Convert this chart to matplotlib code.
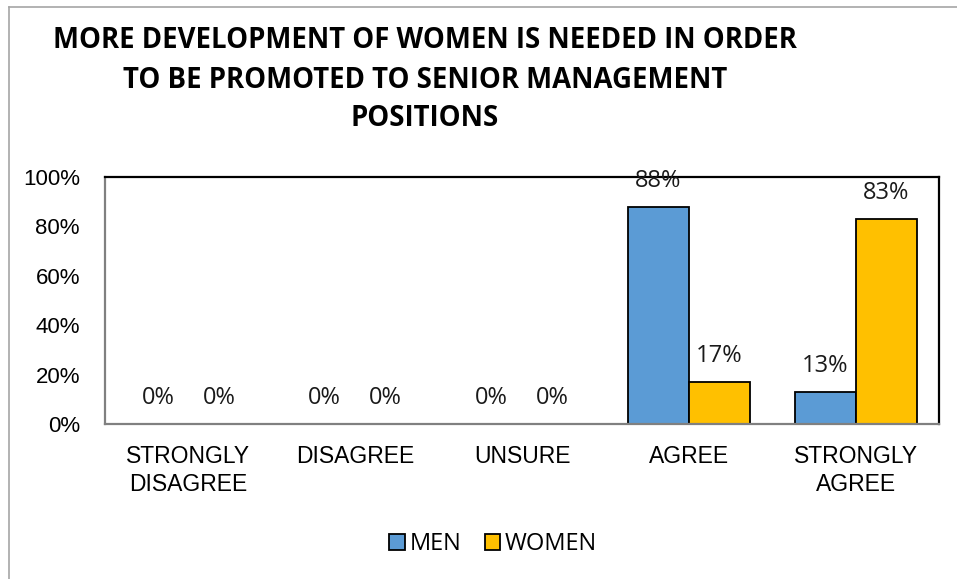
import matplotlib
matplotlib.use("Agg")
import matplotlib.pyplot as plt
from matplotlib.lines import Line2D
from matplotlib.patches import Patch
import numpy as np

categories = ["STRONGLY\nDISAGREE", "DISAGREE", "UNSURE", "AGREE", "STRONGLY\nAGREE"]
men = [0.00, 0.00, 0.00, 0.88, 0.13]
women = [0.00, 0.00, 0.00, 0.17, 0.83]
men_labels = ["0%", "0%", "0%", "88%", "13%"]
women_labels = ["0%", "0%", "0%", "17%", "83%"]
yticks = [0.0, 0.2, 0.4, 0.6, 0.8, 1.0]
ytick_labels = ["0%", "20%", "40%", "60%", "80%", "100%"]
title_lines = ["MORE DEVELOPMENT OF WOMEN IS NEEDED IN ORDER",
               "TO BE PROMOTED TO SENIOR MANAGEMENT",
               "POSITIONS"]

W, H = 957, 579
fig = plt.figure(figsize=(W / 100, H / 100), dpi=100)
fig.patch.set_facecolor("white")

narrow = ["Liberation Sans Narrow", "Liberation Sans", "DejaVu Sans"]
human = ["Open Sans", "DejaVu Sans"]

# frame of chart area (only top and left visible)
fig.add_artist(Line2D([9 / W, 1.0], [1 - 7 / H, 1 - 7 / H], color="#a6a6a6", lw=1.2, transform=fig.transFigure))
fig.add_artist(Line2D([9 / W, 9 / W], [1 - 7 / H, 0.0], color="#a6a6a6", lw=1.2, transform=fig.transFigure))

ax_l, ax_r, ax_t, ax_b = 105, 939, 177, 424
ax = fig.add_axes([ax_l / W, 1 - ax_b / H, (ax_r - ax_l) / W, (ax_b - ax_t) / H])

x = np.arange(len(categories))
bw = 0.366
b1 = ax.bar(x - bw / 2, men, bw, color="#5B9BD5", edgecolor="black", linewidth=1.3, label="MEN", zorder=2)
b2 = ax.bar(x + bw / 2, women, bw, color="#FFC000", edgecolor="black", linewidth=1.3, label="WOMEN", zorder=2)

for bars, labs in ((b1, men_labels), (b2, women_labels)):
    for rect, lab in zip(bars, labs):
        ax.annotate(lab, (rect.get_x() + rect.get_width() / 2, rect.get_height()),
                    xytext=(0, 18.5), textcoords="offset points", ha="center", va="center",
                    fontsize=17, family=human, color="#1a1a1a", zorder=3, annotation_clip=False)

ax.set_xlim(-0.5, len(categories) - 0.5)
ax.set_ylim(0, 1.0)
ax.set_yticks(yticks)
ax.set_yticklabels(ytick_labels, family=narrow, fontsize=16)
ax.set_xticks(x)
ax.set_xticklabels(categories, family=narrow, fontsize=16.5, linespacing=1.3)
ax.tick_params(axis="y", length=0, pad=18)
ax.tick_params(axis="x", length=0, pad=15)

for s in ("top", "right"):
    ax.spines[s].set_color("black")
    ax.spines[s].set_linewidth(1.6)
for s in ("left", "bottom"):
    ax.spines[s].set_color("#808080")
    ax.spines[s].set_linewidth(1.6)

# title
title_y = [41, 80, 118]
for line, yy in zip(title_lines, title_y):
    fig.text(425 / W, 1 - yy / H, line, ha="center", va="center", fontsize=19.8,
             fontweight="bold", family=human, color="black")

# legend
handles = [Patch(facecolor="#5B9BD5", edgecolor="black", linewidth=1.3, label="MEN"),
           Patch(facecolor="#FFC000", edgecolor="black", linewidth=1.3, label="WOMEN")]
fig.legend(handles=handles, loc="center", bbox_to_anchor=(493 / W, 1 - 544 / H), ncol=2,
           frameon=False, prop={"family": human, "size": 17}, handlelength=0.65,
           handleheight=0.65, handletextpad=0.2, columnspacing=1.0, borderpad=0)

fig.savefig("out.png", dpi=100, facecolor="white")
